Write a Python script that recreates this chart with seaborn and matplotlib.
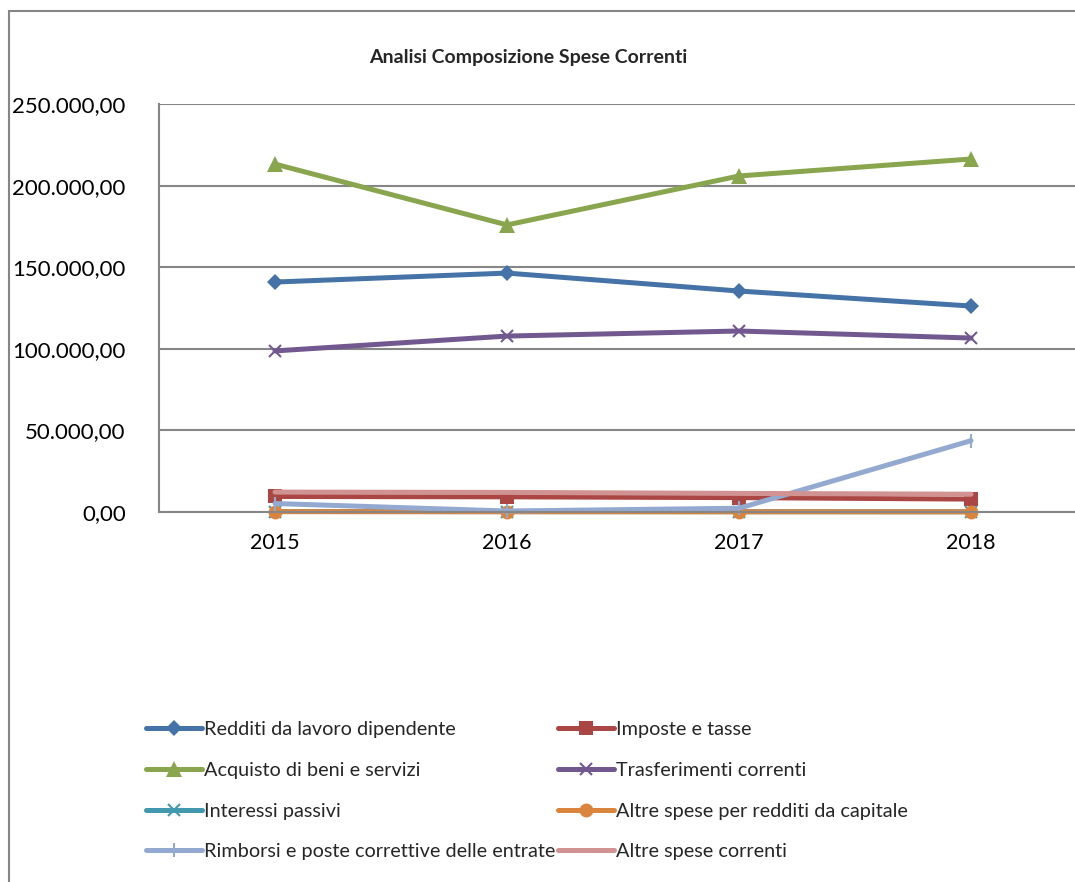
import numpy as np
import pandas as pd
import matplotlib
matplotlib.use("Agg")
import matplotlib.pyplot as plt
from matplotlib.patches import Rectangle
from matplotlib.ticker import FuncFormatter, FixedLocator
import seaborn as sns

# values
years = ["2015", "2016", "2017", "2018"]
redditi = [140900, 146400, 135400, 126200]
imposte = [9500, 9300, 8800, 7900]
acquisto = [213200, 175900, 205900, 216300]
trasferimenti = [98700, 107800, 110900, 106600]
interessi = [300, 250, 200, 150]
altre_capitale = [200, 150, 100, 100]
rimborsi = [5200, 600, 2300, 43700]
altre_correnti = [12200, 12000, 11400, 10900]

series_names = [
    "Redditi da lavoro dipendente",
    "Imposte e tasse",
    "Acquisto di beni e servizi",
    "Trasferimenti correnti",
    "Interessi passivi",
    "Altre spese per redditi da capitale",
    "Rimborsi e poste correttive delle entrate",
    "Altre spese correnti",
]
series_values = [redditi, imposte, acquisto, trasferimenti,
                 interessi, altre_capitale, rimborsi, altre_correnti]
colors = ["#4572A7", "#AA4643", "#89A54E", "#71588F",
          "#4198AF", "#DB843D", "#93A9CF", "#D19392"]
markers = ["D", "s", "^", "x", "x", "o", "|", None]
marker_sizes = [8, 10, 11, 9, 9, 10, 10, 0]

df = pd.concat(
    [pd.DataFrame({"anno": years, "valore": vals, "serie": name})
     for name, vals in zip(series_names, series_values)],
    ignore_index=True,
)

sns.set_style("white")
plt.rcParams["font.family"] = ["Lato", "DejaVu Sans"]

fig = plt.figure(figsize=(10.75, 8.82), dpi=100)
ax = fig.add_axes([159 / 1075, 1 - 512 / 882, 928 / 1075, 408 / 882])

grid_color = "#868686"
for name, color, mk, ms in zip(series_names, colors, markers, marker_sizes):
    sub = df[df["serie"] == name]
    sns.lineplot(data=sub, x="anno", y="valore", ax=ax, color=color,
                 linewidth=3.6, marker=mk, markersize=ms,
                 markeredgewidth=1.5 if mk in ("x", "|") else 0,
                 markeredgecolor=color, label=name, sort=False,
                 clip_on=False)

leg = ax.get_legend()
if leg is not None:
    leg.remove()
h, l = ax.get_legend_handles_labels()
hmap = dict(zip(l, h))

ax.set_xlim(-0.5, 3.5)
ax.set_ylim(0, 250000)
ax.set_yticks(np.arange(0, 250001, 50000))
ax.yaxis.set_major_formatter(
    FuncFormatter(lambda v, p: f"{v:,.2f}".replace(",", "X").replace(".", ",").replace("X", "."))
)
ax.grid(axis="y", color=grid_color, linewidth=1.5)
ax.grid(axis="x", visible=False)
ax.set_axisbelow(True)
ax.set_xlabel("")
ax.set_ylabel("")

for side in ("top", "right"):
    ax.spines[side].set_visible(False)
for side in ("left", "bottom"):
    ax.spines[side].set_color(grid_color)
    ax.spines[side].set_linewidth(1.5)

ax.xaxis.set_minor_locator(FixedLocator([-0.5, 0.5, 1.5, 2.5, 3.5]))
ax.tick_params(axis="x", which="major", length=0, labelsize=15.5, pad=15, colors="black")
ax.tick_params(axis="x", which="minor", length=7, width=1.5, color=grid_color, direction="out")
ax.tick_params(axis="y", which="major", length=7, width=1.5, color=grid_color,
               direction="out", labelsize=16, pad=17, labelcolor="black")

fig.text(528 / 1075, 1 - 57 / 882, "Analisi Composizione Spese Correnti",
         ha="center", va="center", fontsize=14, fontweight="bold")

# outer chart frame
fig.add_artist(Rectangle((9 / 1075, -0.1), 1.2, 1 - 11 / 882 + 0.1,
                         transform=fig.transFigure, fill=False,
                         edgecolor=grid_color, linewidth=1.5))

order = [0, 2, 4, 6, 1, 3, 5, 7]
fig.legend([hmap[series_names[i]] for i in order],
           [series_names[i] for i in order],
           ncol=2, frameon=False, loc="upper left",
           bbox_to_anchor=(128 / 1075, 1 - 703 / 882),
           fontsize=14.3, handlelength=2.85, handletextpad=0.1,
           labelspacing=1.2, columnspacing=0.1)

fig.savefig("out.png", dpi=100)
